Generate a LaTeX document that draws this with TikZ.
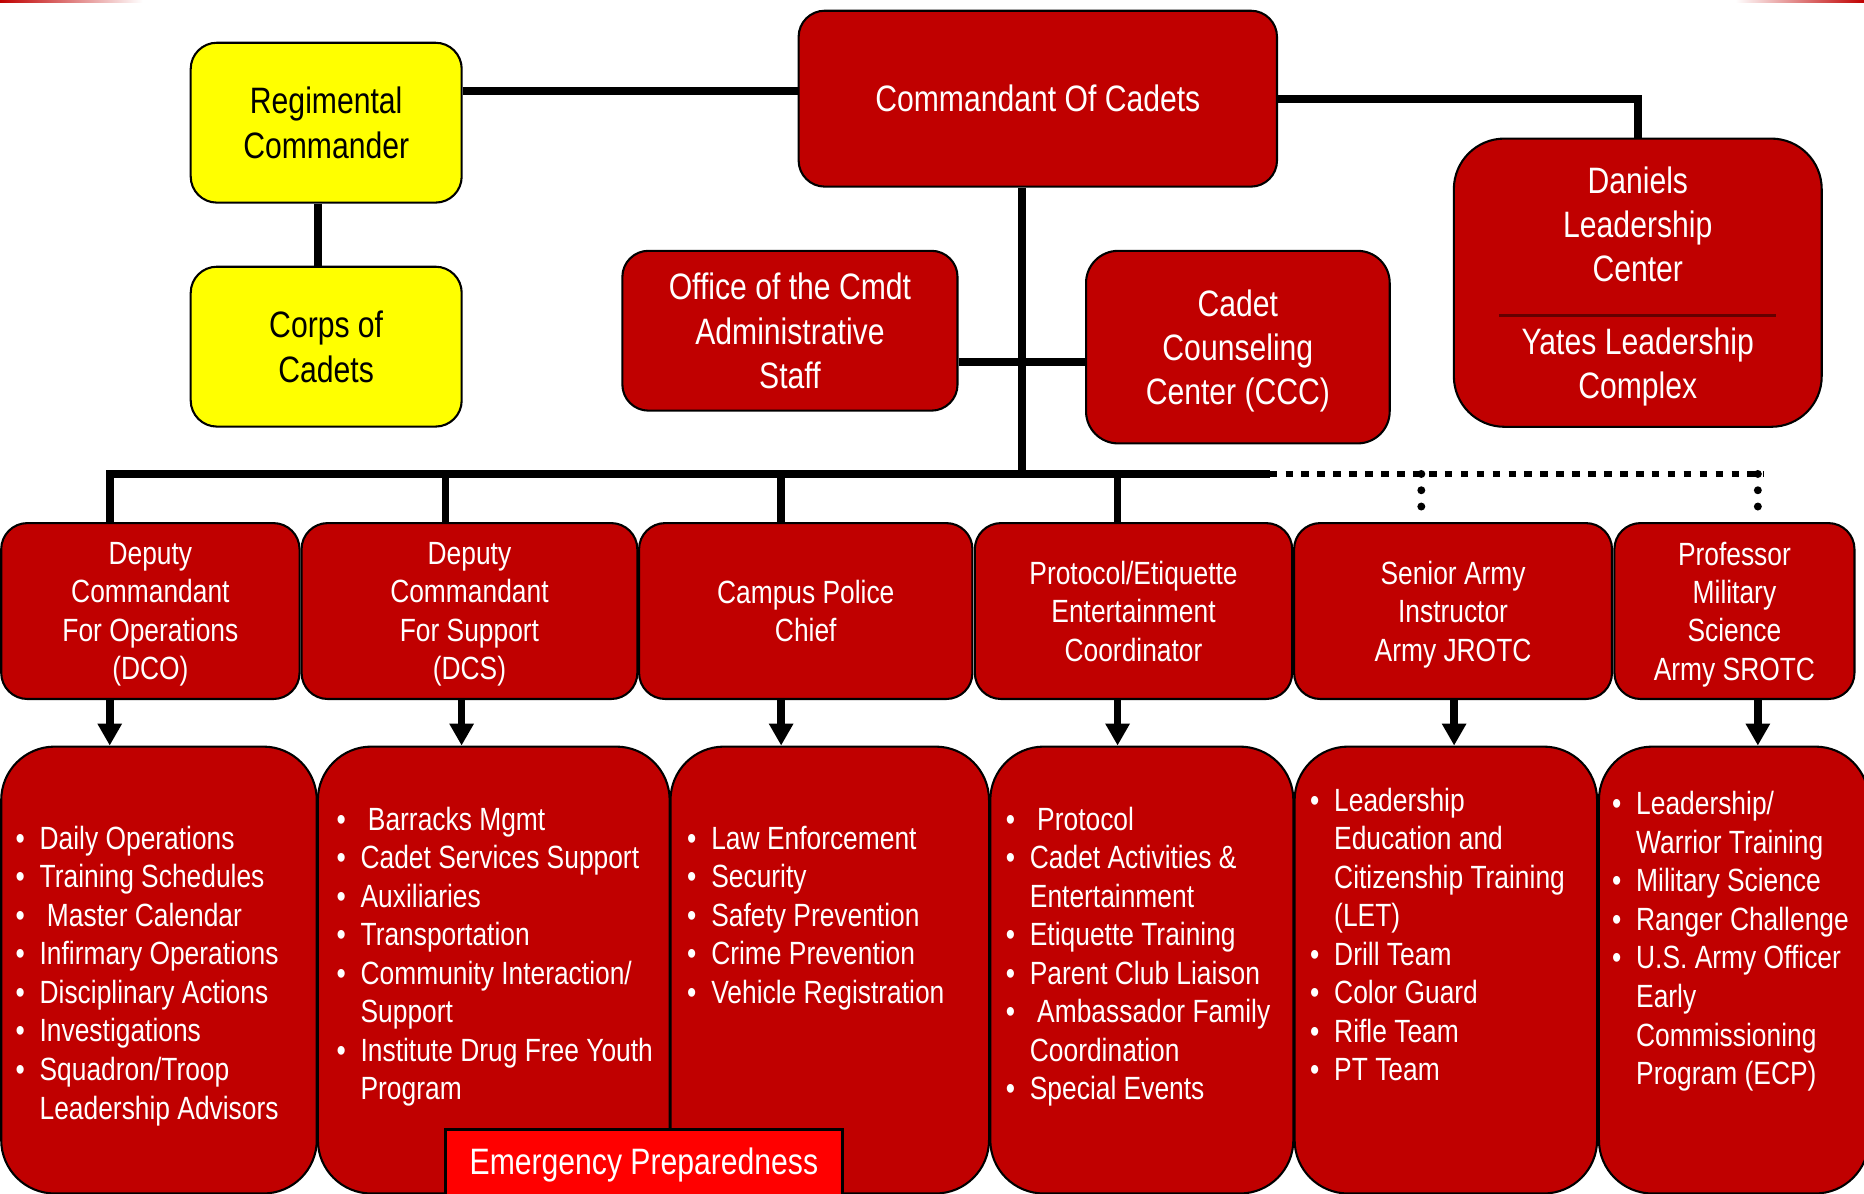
\documentclass[tikz,border=0pt]{standalone}
\usepackage{fontspec}
\setmainfont{Liberation Sans}[FakeStretch=0.82]
\usetikzlibrary{arrows.meta, positioning}
\definecolor{boxred}{RGB}{192,0,0}
\definecolor{boxyellow}{RGB}{255,255,0}
\definecolor{alertred}{RGB}{255,0,0}
\definecolor{sepred}{RGB}{100,0,0}
\tikzset{%
	orgbox/.style={
		draw=black,
		line width=0.035cm,
		align=center,
		inner sep=0pt,
		text depth=0pt
	},
	headbox/.style={orgbox, fill=boxred, text=white, rounded corners=0.44cm,
		font=\fontsize{17.6}{21.2}\selectfont},
	leadbox/.style={orgbox, fill=boxyellow, text=black, rounded corners=0.44cm,
		font=\fontsize{17.6}{21.2}\selectfont},
	unitbox/.style={orgbox, fill=boxred, text=white, rounded corners=0.44cm,
		minimum height=2.96cm, font=\fontsize{15.4}{18.4}\selectfont},
	taskbox/.style={orgbox, fill=boxred, rounded corners=0.9cm, minimum height=7.52cm},
	tasktext/.style={text=white, anchor=base west, inner sep=0pt,
		font=\fontsize{15.4}{18.4}\selectfont},
	alertbox/.style={draw=black, line width=0.06cm, fill=alertred, text=white, inner sep=0pt,
		font=\fontsize{17.6}{21.2}\selectfont},
	conn/.style={line width=0.13cm},
	dotbus/.style={line width=0.11cm, dash pattern=on 0.128cm off 0.14cm},
	dotdrop/.style={line width=0.134cm, line cap=round, dash pattern=on 0pt off 0.274cm},
	arr/.style={line width=0.13cm, -{Triangle[length=0.37cm, width=0.39cm]}},
	sepline/.style={draw=sepred, line width=0.04cm},
}

\begin{document}
\begin{tikzpicture}[x=0.02cm, y=-0.02cm]
	% Define the line spacing of the task lists and the bullet
	\newcommand{\lineGap}{32.4}
	\newcommand{\bul}{\llap{\textbullet\hspace{0.25cm}}}
	
	\useasboundingbox (0,0) rectangle (1568,1004);
	\clip (0,0) rectangle (1568,1004);
	
	% slide strip at the top
	\shade[left color=boxred, right color=white] (0,0) rectangle (120,2.5);
	\shade[left color=white, right color=boxred] (1460,0) rectangle (1568,2.5);
	
	% junction points
	\coordinate (rc-link) at (388,76.3);
	\coordinate (rc-drop) at (267.3,170);
	\coordinate (trunk) at (859.5,398.7);
	\coordinate (staff-link) at (859.5,304.8);
	\coordinate (bus-w) at (92.3,398.7);
	\coordinate (bus-e) at (1068,398.7);
	\coordinate (bus-end) at (1484,398.7);
	
	% top level
	\node[leadbox, minimum width=4.56cm, minimum height=2.69cm] (regcmd) at (274.4,103.2) {Regimental\\Commander};
	\node[leadbox, minimum width=4.56cm, minimum height=2.69cm] (corps) at (274.4,291.6) {Corps of\\Cadets};
	\node[headbox, minimum width=8.05cm, minimum height=2.96cm] (cmdt) at (873,83) {Commandant Of Cadets};
	\node[headbox, minimum width=6.19cm, minimum height=4.85cm, rounded corners=0.85cm] (daniels) at (1377.7,237.8)
		{Daniels\\Leadership\\Center\\[0.474cm]Yates Leadership\\Complex};
	\node[headbox, minimum width=5.64cm, minimum height=2.69cm] (office) at (664.5,278.2) {Office of the Cmdt\\Administrative\\Staff};
	\node[headbox, minimum width=5.11cm, minimum height=3.24cm, rounded corners=0.54cm] (ccc) at (1041.3,292) {Cadet\\Counseling\\Center (CCC)};
	\draw[sepline] (1260.8,265.3) -- (1494,265.3);
	
	% second level
	\node[unitbox, minimum width=5.02cm] (dco) at (126.5,514) {Deputy\\Commandant\\For Operations\\(DCO)};
	\node[unitbox, minimum width=5.65cm] (dcs) at (394.9,514) {Deputy\\Commandant\\For Support\\(DCS)};
	\node[unitbox, minimum width=5.61cm] (police) at (677.8,514) {Campus Police\\Chief};
	\node[unitbox, minimum width=5.34cm] (protocol) at (953.5,514) {Protocol/Etiquette\\Entertainment\\Coordinator};
	\node[unitbox, minimum width=5.35cm] (sai) at (1222.3,514) {Senior Army\\Instructor\\Army JROTC};
	\node[unitbox, minimum width=4.04cm] (pms) at (1459,514) {Professor\\Military\\Science\\Army SROTC};
	
	% task boxes
	\node[taskbox, minimum width=5.31cm] (ops) at (133.75,816) {};
	\node[taskbox, minimum width=5.92cm] (sup) at (415.35,816) {};
	\node[taskbox, minimum width=5.36cm] (law) at (698,816) {};
	\node[taskbox, minimum width=5.10cm] (prot) at (960.5,816) {};
	\node[taskbox, minimum width=5.09cm] (jrotc) at (1216.25,816) {};
	\node[taskbox, minimum width=4.54cm] (rotc) at (1458.5,816) {};
	
	% connectors
	\draw[conn] (regcmd.east |- rc-link) -- (cmdt.west |- rc-link);
	\draw[conn] (regcmd.south -| rc-drop) -- (corps.north -| rc-drop);
	\draw[conn] (cmdt.east) -| (daniels.north);
	\draw[conn] (cmdt.south -| trunk) -- (trunk);
	\draw[conn] (office.east |- staff-link) -- (ccc.west |- staff-link);
	\draw[conn] (dco.north -| bus-w) -- (bus-w) -- (bus-e);
	\foreach \n/\x in {dcs/374.7, police/657.1, protocol/940.1} {
		\coordinate (drop-\n) at (\x,398.7);
		\draw[conn] (drop-\n) -- (\n.north -| drop-\n);
	}
	\draw[dotbus] (bus-e) -- (bus-end);
	\foreach \n/\x in {sai/1195.6, pms/1478.7} {
		\coordinate (drop-\n) at (\x,398.7);
		\coordinate (tick-\n) at (\x,426.5);
		\draw[dotdrop] (drop-\n) -- (tick-\n);
	}
	\foreach \a/\b/\x in {dco/ops/92.3, dcs/sup/388.3, police/law/657.1, protocol/prot/940.1, sai/jrotc/1223.2, pms/rotc/1478.7} {
		\coordinate (tip-\b) at (\x,628);
		\draw[arr] (\a.south -| tip-\b) -- (\b.north -| tip-\b);
	}
	
	% task lists
	\foreach \ln [count=\i] in {\bul Daily Operations, \bul Training Schedules, \bul\ Master Calendar, \bul Infirmary Operations, \bul Disciplinary Actions, \bul Investigations, \bul Squadron/Troop, Leadership Advisors} {
		\node[tasktext] (ops-\i) at (33, 714.5+\i*\lineGap-\lineGap) {\ln};
	}
	\foreach \ln [count=\i] in {\bul\ Barracks Mgmt, \bul Cadet Services Support, \bul Auxiliaries, \bul Transportation, \bul Community Interaction/, Support, \bul Institute Drug Free Youth, Program} {
		\node[tasktext] (sup-\i) at (303, 698.5+\i*\lineGap-\lineGap) {\ln};
	}
	\foreach \ln [count=\i] in {\bul Law Enforcement, \bul Security, \bul Safety Prevention, \bul Crime Prevention, \bul Vehicle Registration} {
		\node[tasktext] (law-\i) at (598, 714.5+\i*\lineGap-\lineGap) {\ln};
	}
	\foreach \ln [count=\i] in {\bul\ Protocol, \bul Cadet Activities \&, Entertainment, \bul Etiquette Training, \bul Parent Club Liaison, \bul\ Ambassador Family, Coordination, \bul Special Events} {
		\node[tasktext] (prot-\i) at (866, 698.5+\i*\lineGap-\lineGap) {\ln};
	}
	\foreach \ln [count=\i] in {\bul Leadership, Education and, Citizenship Training, (LET), \bul Drill Team, \bul Color Guard, \bul Rifle Team, \bul PT Team} {
		\node[tasktext] (jrotc-\i) at (1122, 682.5+\i*\lineGap-\lineGap) {\ln};
	}
	\foreach \ln [count=\i] in {\bul Leadership/, Warrior Training, \bul Military Science, \bul Ranger Challenge, \bul U.S. Army Officer, Early, Commissioning, Program (ECP)} {
		\node[tasktext] (rotc-\i) at (1376, 685.5+\i*\lineGap-\lineGap) {\ln};
	}
	
	\node[alertbox, minimum width=6.68cm, minimum height=1.2cm] (emerg) at (541.65,980) {Emergency Preparedness};
\end{tikzpicture}
\end{document}
